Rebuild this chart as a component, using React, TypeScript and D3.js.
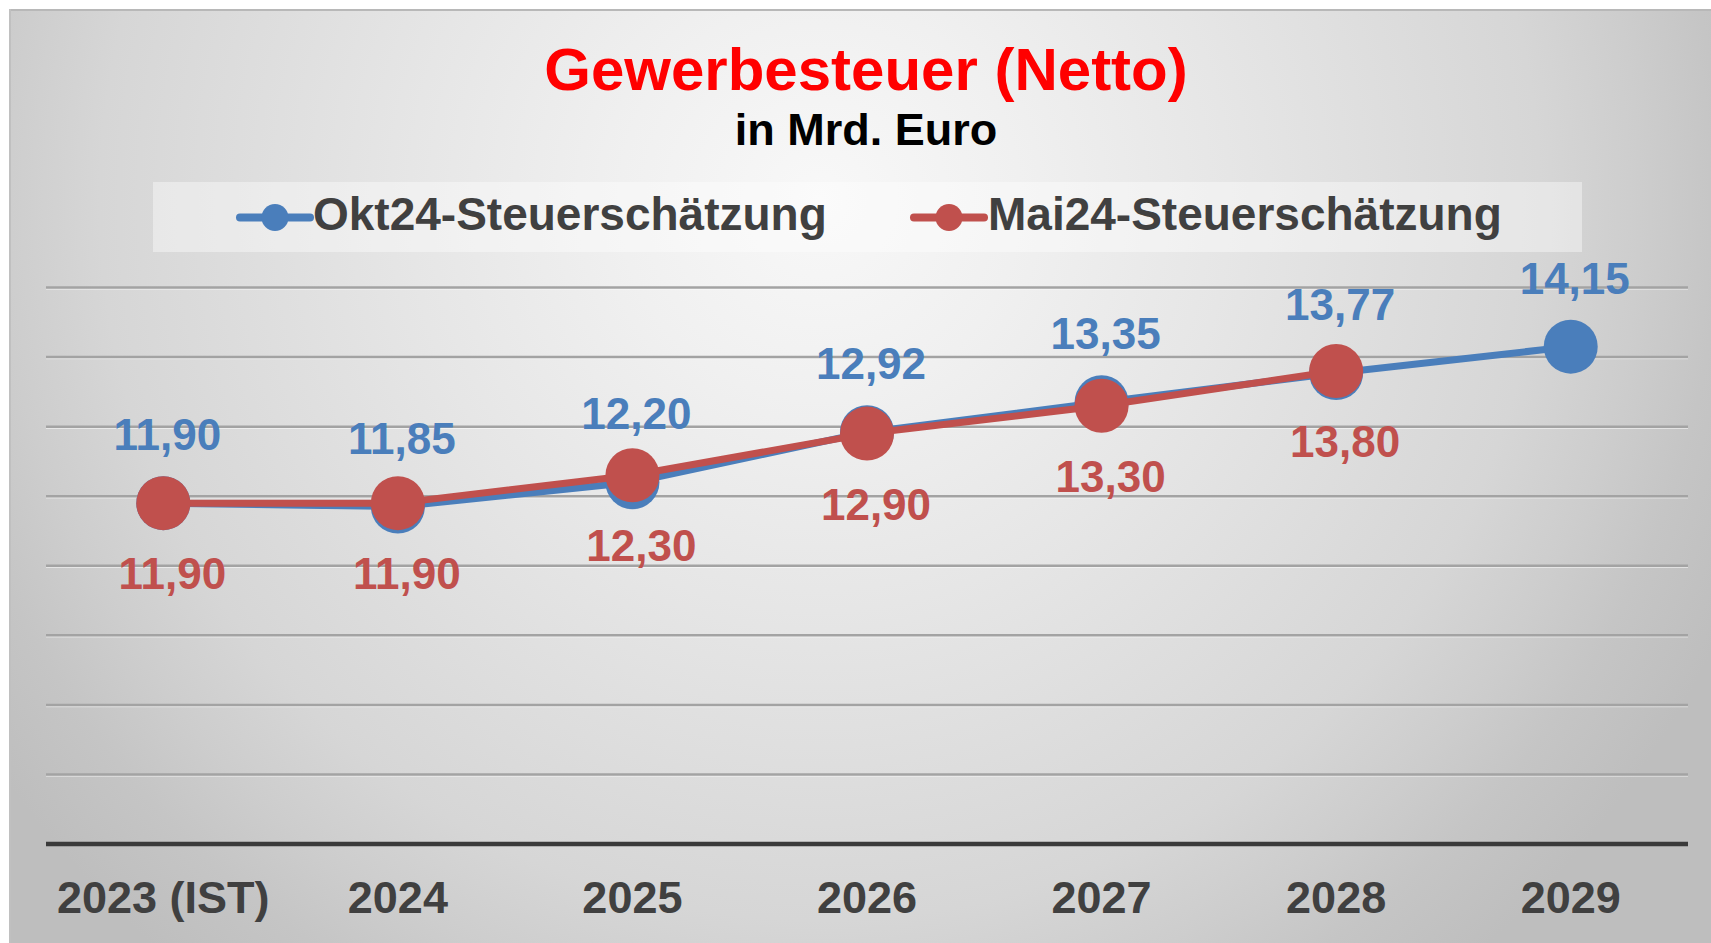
import React from "react";
import * as d3 from "d3";

const categories = ["2023 (IST)", "2024", "2025", "2026", "2027", "2028", "2029"];
const okt24: (number | null)[] = [11.9, 11.85, 12.2, 12.92, 13.35, 13.77, 14.15];
const mai24: (number | null)[] = [11.9, 11.9, 12.3, 12.9, 13.3, 13.8, null];
const yTicks = [7, 8, 9, 10, 11, 12, 13, 14, 15];
const seriesNames = ["Okt24-Steuerschätzung", "Mai24-Steuerschätzung"];
const title = "Gewerbesteuer (Netto)";
const subtitle = "in Mrd. Euro";

const W = 1711;
const H = 943;
const BLUE = "#4a7ebb";
const RED = "#c0504d";
const FONT = "'Liberation Sans', Arial, sans-serif";

const locale = d3.formatLocale({ decimal: ",", thousands: ".", grouping: [3], currency: ["", "€"] });
const fmt = locale.format(".2f");

export default function App() {
  const x = d3.scalePoint<string>().domain(categories).range([46, 1688]).padding(0.5);
  const y = d3.scaleLinear().domain([7, 15]).range([844, 287.5]);

  const line = d3
    .line<number | null>()
    .defined((d) => d !== null)
    .x((_, i) => x(categories[i]) as number)
    .y((d) => y(d as number));

  const series = [
    { name: seriesNames[0], values: okt24, color: BLUE, dy: -53, dx: 4 },
    { name: seriesNames[1], values: mai24, color: RED, dy: 86, dx: 9 },
  ];

  const legendItems = [
    { name: seriesNames[0], color: BLUE, lx: 240, tx: 313 },
    { name: seriesNames[1], color: RED, lx: 914, tx: 988 },
  ];

  return (
    <svg
      width={W}
      height={H}
      style={{ position: "absolute", left: 0, top: 0, display: "block" }}
      fontFamily={FONT}
    >
      <defs>
        <radialGradient id="bg" gradientUnits="userSpaceOnUse" cx={820} cy={200} r={1000}>
          <stop offset="0" stopColor="#f8f8f8" />
          <stop offset="0.2" stopColor="#f0f0f0" />
          <stop offset="0.41" stopColor="#e6e6e6" />
          <stop offset="0.72" stopColor="#d6d6d6" />
          <stop offset="0.82" stopColor="#cdcdcd" />
          <stop offset="0.9" stopColor="#c5c5c5" />
          <stop offset="1" stopColor="#bebebe" />
        </radialGradient>
      </defs>
      <rect x={0} y={0} width={W} height={H} fill="#ffffff" />
      <rect x={9} y={9} width={W - 9} height={H - 9} fill="url(#bg)" />
      <line x1={9} x2={W} y1={10} y2={10} stroke="#b8b8b8" strokeWidth={2} />
      <line x1={10} x2={10} y1={9} y2={H} stroke="#c0c0c0" strokeWidth={2} />

      {/* Title */}
      <text x={866} y={90} textAnchor="middle" fontSize={60} fontWeight="bold" fill="#ff0000">
        {title}
      </text>
      <text x={866} y={145} textAnchor="middle" fontSize={45} fontWeight="bold" fill="#000000">
        {subtitle}
      </text>

      {/* Legend */}
      <rect x={153} y={182} width={1429} height={70} fill="#ffffff" opacity={0.4} />
      {legendItems.map((it) => (
        <g key={it.name}>
          <line x1={it.lx} x2={it.lx + 70} y1={217.5} y2={217.5} stroke={it.color} strokeWidth={8} strokeLinecap="round" />
          <circle cx={it.lx + 35} cy={217.5} r={13.5} fill={it.color} />
          <text x={it.tx} y={230} fontSize={46} fontWeight="bold" fill="#404040">
            {it.name}
          </text>
        </g>
      ))}

      {/* Gridlines */}
      {yTicks.slice(1).map((t) => (
        <g key={t}>
          <line x1={46} x2={1688} y1={y(t) + 1.5} y2={y(t) + 1.5} stroke="#ffffff" strokeOpacity={0.5} strokeWidth={1.5} />
          <line x1={46} x2={1688} y1={y(t)} y2={y(t)} stroke="#a3a3a3" strokeWidth={2.5} />
        </g>
      ))}
      <line x1={46} x2={1688} y1={y(7)} y2={y(7)} stroke="#3a3a3a" strokeWidth={4.5} />

      {/* X labels */}
      {categories.map((c) => (
        <text key={c} x={x(c)} y={913} textAnchor="middle" fontSize={45} fontWeight="bold" fill="#404040">
          {c}
        </text>
      ))}

      {/* Series */}
      {series.map((s) => (
        <g key={s.name}>
          <path d={line(s.values) || ""} fill="none" stroke={s.color} strokeWidth={7} strokeLinejoin="round" />
          {s.values.map((v, i) =>
            v === null ? null : (
              <circle key={i} cx={x(categories[i])} cy={y(v)} r={27} fill={s.color} />
            )
          )}
        </g>
      ))}
      {series.map((s) => (
        <g key={s.name + "-labels"}>
          {s.values.map((v, i) =>
            v === null ? null : (
              <text
                key={i}
                x={(x(categories[i]) as number) + s.dx}
                y={y(v) + s.dy}
                textAnchor="middle"
                fontSize={44}
                fontWeight="bold"
                fill={s.color}
              >
                {fmt(v)}
              </text>
            )
          )}
        </g>
      ))}
    </svg>
  );
}
